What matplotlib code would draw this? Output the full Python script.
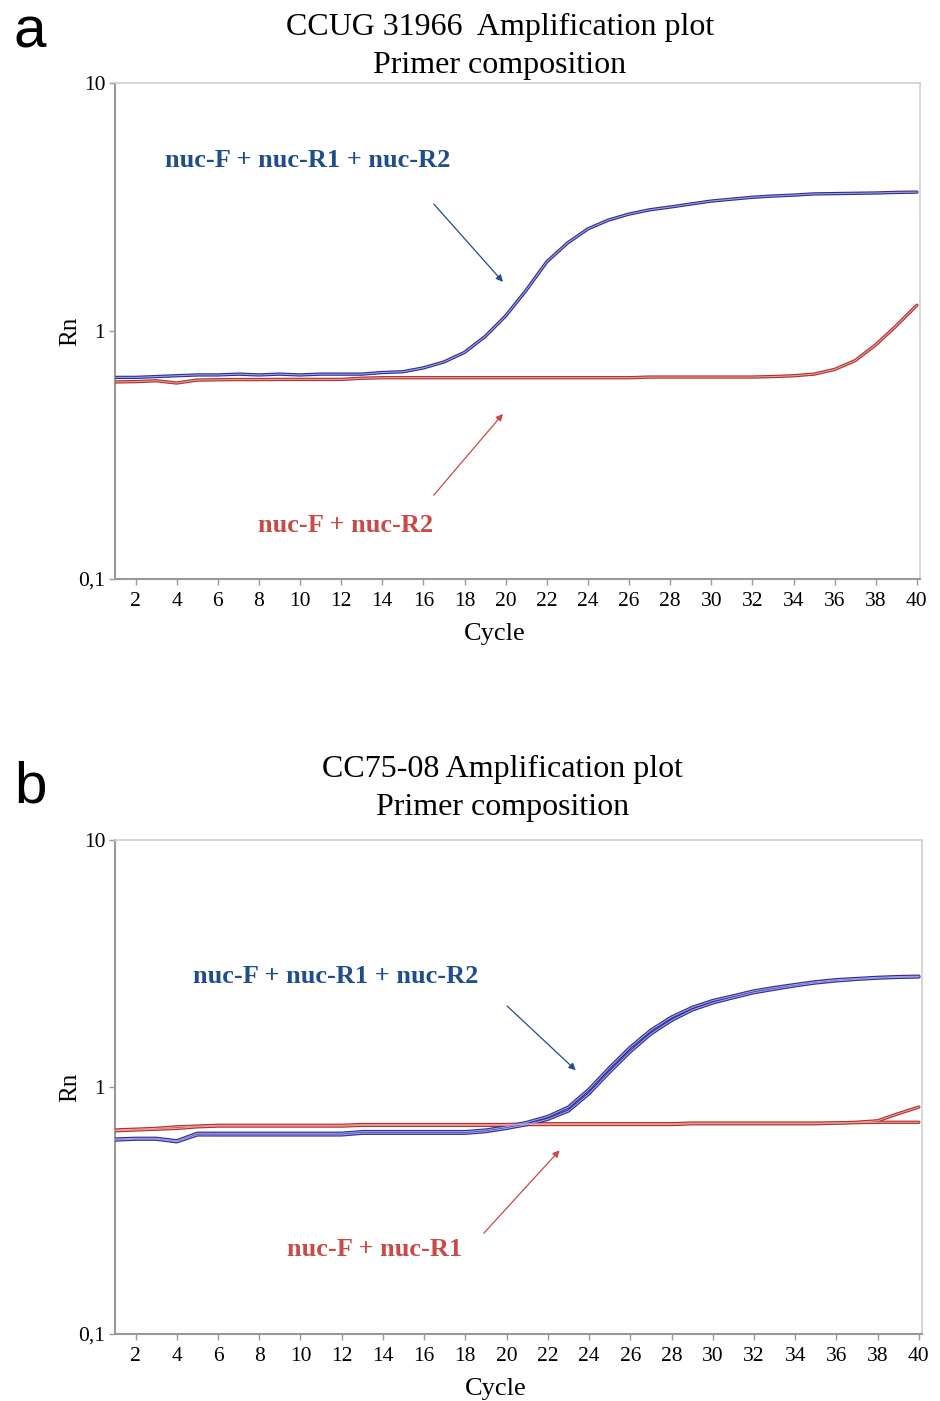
import numpy as np
import matplotlib.pyplot as plt
from matplotlib.ticker import FixedLocator, NullLocator

plt.rcParams['font.family'] = ['Liberation Serif', 'DejaVu Serif']

cycles = np.arange(1, 41)

# panel a: CCUG 31966
a_blue = [0.65, 0.65, 0.655, 0.66, 0.665, 0.665, 0.67, 0.665, 0.67, 0.665,
          0.67, 0.67, 0.67, 0.68, 0.685, 0.71, 0.75, 0.82, 0.95, 1.15,
          1.46, 1.9, 2.26, 2.58, 2.8, 2.96, 3.08, 3.16, 3.25, 3.34,
          3.4, 3.46, 3.5, 3.53, 3.57, 3.58, 3.59, 3.6, 3.62, 3.63]
a_red = [0.623, 0.625, 0.63, 0.617, 0.634, 0.636, 0.637, 0.637, 0.638, 0.638,
         0.638, 0.638, 0.645, 0.648, 0.648, 0.648, 0.648, 0.648, 0.648, 0.648,
         0.648, 0.648, 0.648, 0.648, 0.648, 0.648, 0.652, 0.652, 0.652, 0.652,
         0.652, 0.652, 0.655, 0.66, 0.67, 0.70, 0.76, 0.88, 1.05, 1.27]

# panel b: CC75-08 (replicates)
b_blue1 = [0.616, 0.62, 0.62, 0.606, 0.65, 0.65, 0.65, 0.65, 0.65, 0.65,
           0.65, 0.65, 0.66, 0.66, 0.66, 0.66, 0.66, 0.66, 0.67, 0.69,
           0.72, 0.76, 0.83, 0.98, 1.2, 1.45, 1.7, 1.92, 2.1, 2.24,
           2.34, 2.45, 2.53, 2.6, 2.67, 2.72, 2.75, 2.78, 2.8, 2.81]
b_blue2 = [0.61, 0.615, 0.615, 0.60, 0.64, 0.64, 0.64, 0.64, 0.64, 0.64,
           0.64, 0.64, 0.65, 0.65, 0.65, 0.65, 0.65, 0.65, 0.66, 0.68,
           0.705, 0.74, 0.80, 0.94, 1.15, 1.39, 1.64, 1.86, 2.05, 2.19,
           2.3, 2.41, 2.49, 2.57, 2.64, 2.69, 2.73, 2.76, 2.78, 2.79]
b_red1 = [0.67, 0.675, 0.68, 0.69, 0.695, 0.70, 0.70, 0.70, 0.70, 0.70,
          0.70, 0.70, 0.705, 0.705, 0.705, 0.705, 0.705, 0.705, 0.705, 0.705,
          0.71, 0.71, 0.71, 0.71, 0.71, 0.71, 0.71, 0.71, 0.715, 0.715,
          0.715, 0.715, 0.715, 0.715, 0.715, 0.715, 0.718, 0.72, 0.72, 0.72]
b_red2 = [0.665, 0.67, 0.675, 0.68, 0.69, 0.695, 0.695, 0.695, 0.695, 0.695,
          0.695, 0.695, 0.70, 0.70, 0.70, 0.70, 0.70, 0.70, 0.70, 0.70,
          0.705, 0.705, 0.705, 0.705, 0.705, 0.705, 0.705, 0.705, 0.71, 0.71,
          0.71, 0.71, 0.71, 0.71, 0.71, 0.715, 0.72, 0.73, 0.78, 0.83]

xticks = list(range(2, 41, 2))
yticks = [0.1, 1, 10]
ylabels = ['0,1', '1', '10']

BLUE_DARK = '#2e2e90'
BLUE_LIGHT = '#a0a0ea'
RED_DARK = '#b0302c'
RED_LIGHT = '#ec9e9a'
TXT_BLUE = '#1f4e8c'
TXT_RED = '#c94a46'


def draw_curve(ax, y, dark, light):
    ax.plot(cycles, y, color=dark, lw=2.4, solid_capstyle='round', zorder=3)
    ax.plot(cycles, y, color=light, lw=0.8, zorder=4)


def style_axes(ax, title, tx, tpad):
    ax.set_yscale('log')
    ax.set_ylim(0.1, 10)
    ax.set_xlim(1, 40.15)
    ax.yaxis.set_major_locator(FixedLocator(yticks))
    ax.yaxis.set_minor_locator(NullLocator())
    ax.set_yticklabels(ylabels)
    ax.set_xticks(xticks)
    ax.tick_params(axis='both', labelsize=15.5, length=4, color='#999999', width=1)
    ax.tick_params(axis='x', pad=5)
    ax.tick_params(axis='y', pad=3)
    for s in ['left', 'bottom']:
        ax.spines[s].set_color('#999999')
        ax.spines[s].set_linewidth(1.5)
    for s in ['top', 'right']:
        ax.spines[s].set_color('#d0d0d0')
        ax.spines[s].set_linewidth(1.2)
    ax.set_xlabel('Cycle', fontsize=19)
    ax.xaxis.set_label_coords(0.472, -0.088)
    ax.set_ylabel('Rn', fontsize=18, labelpad=-2)
    ax.set_title(title, fontsize=23, pad=tpad, linespacing=1.42, x=tx)


def arrow(ax, start, end, color):
    ax.annotate('', xy=end, xytext=start, xycoords='axes fraction',
                textcoords='axes fraction',
                arrowprops=dict(arrowstyle='-|>', color=color, lw=0.9,
                                mutation_scale=10, shrinkA=0, shrinkB=0))


fig = plt.figure(figsize=(9.4, 14.01), dpi=100)

ax1 = fig.add_axes([0.1223, 0.5867, 0.8564, 0.3541])
draw_curve(ax1, a_red, RED_DARK, RED_LIGHT)
draw_curve(ax1, a_blue, BLUE_DARK, BLUE_LIGHT)
style_axes(ax1, 'CCUG 31966  Amplification plot\nPrimer composition', 0.478, 7)
ax1.text(0.240, 0.843, 'nuc-F + nuc-R1 + nuc-R2', transform=ax1.transAxes,
         ha='center', va='center', fontsize=19, fontweight='bold', color=TXT_BLUE)
arrow(ax1, (0.396, 0.756), (0.482, 0.599), TXT_BLUE)
ax1.text(0.286, 0.107, 'nuc-F + nuc-R2', transform=ax1.transAxes,
         ha='center', va='center', fontsize=19, fontweight='bold', color=TXT_RED)
arrow(ax1, (0.396, 0.169), (0.482, 0.333), TXT_RED)

ax2 = fig.add_axes([0.1223, 0.0478, 0.8585, 0.3526])
draw_curve(ax2, b_red1, RED_DARK, RED_LIGHT)
draw_curve(ax2, b_red2, RED_DARK, RED_LIGHT)
draw_curve(ax2, b_blue1, BLUE_DARK, BLUE_LIGHT)
draw_curve(ax2, b_blue2, BLUE_DARK, BLUE_LIGHT)
style_axes(ax2, 'CC75-08 Amplification plot\nPrimer composition', 0.48, 18)
ax2.text(0.274, 0.723, 'nuc-F + nuc-R1 + nuc-R2', transform=ax2.transAxes,
         ha='center', va='center', fontsize=19, fontweight='bold', color=TXT_BLUE)
arrow(ax2, (0.486, 0.664), (0.571, 0.534), TXT_BLUE)
ax2.text(0.322, 0.172, 'nuc-F + nuc-R1', transform=ax2.transAxes,
         ha='center', va='center', fontsize=19, fontweight='bold', color=TXT_RED)
arrow(ax2, (0.457, 0.204), (0.551, 0.372), TXT_RED)

fig.text(0.032, 0.977, 'a', fontsize=42, family='Liberation Sans',
         ha='center', va='center')
fig.text(0.032, 0.438, 'b', fontsize=42, family='Liberation Sans',
         ha='center', va='center')

fig.savefig('out.png', dpi=100)
